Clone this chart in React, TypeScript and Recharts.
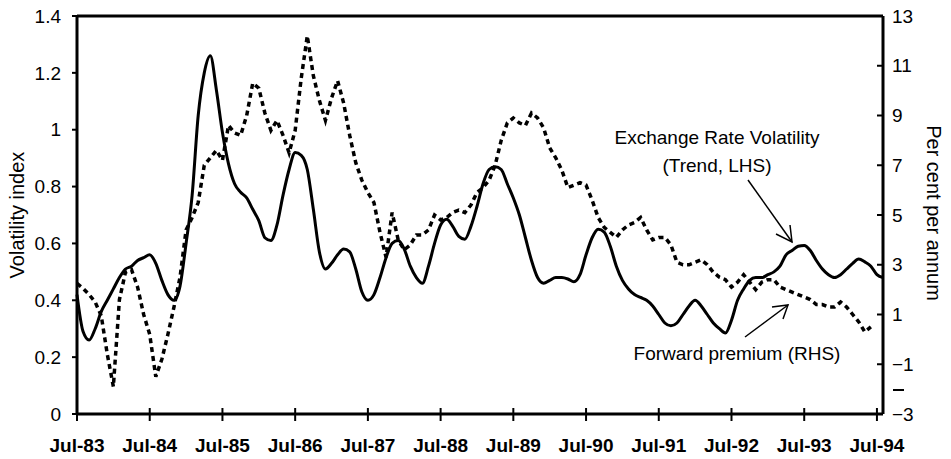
import { LineChart, Line, XAxis, YAxis, ReferenceLine } from "recharts";

const FONT = "'Liberation Sans', Arial, Helvetica, sans-serif";
const INK = "#000";

// one entry per month, Jul-83 = 0
const volatility = [
  0.42, 0.29, 0.26, 0.3, 0.36, 0.4, 0.44, 0.48, 0.51, 0.52, 0.54, 0.55,
  0.56, 0.53, 0.47, 0.42, 0.4, 0.45, 0.6, 0.77, 1.05, 1.2, 1.26, 1.14,
  0.99, 0.88, 0.81, 0.78, 0.76, 0.72, 0.68, 0.62, 0.61, 0.665, 0.77, 0.86,
  0.92, 0.91, 0.86, 0.72, 0.57, 0.51, 0.53, 0.56, 0.58, 0.57, 0.51, 0.43,
  0.4, 0.42, 0.48, 0.55, 0.6, 0.61, 0.58, 0.52, 0.48, 0.46, 0.52, 0.6,
  0.665, 0.685, 0.66, 0.625, 0.615, 0.66, 0.73, 0.81, 0.86, 0.87, 0.86, 0.81,
  0.76, 0.7, 0.62, 0.54, 0.48, 0.46, 0.47, 0.48, 0.48, 0.475, 0.465, 0.49,
  0.56, 0.62, 0.65, 0.64, 0.59, 0.52, 0.47, 0.44, 0.42, 0.41, 0.4, 0.38,
  0.35, 0.32, 0.31, 0.32, 0.35, 0.38, 0.4, 0.38, 0.35, 0.32, 0.3, 0.285,
  0.33, 0.4, 0.44, 0.47, 0.48, 0.48, 0.49, 0.5, 0.52, 0.56, 0.575, 0.59,
  0.593, 0.575, 0.54, 0.51, 0.49, 0.48, 0.49, 0.51, 0.53, 0.545, 0.535, 0.52,
  0.49, 0.48,
];

const forwardPremium = [
  2.25, 2.05, 1.8, 1.5, 0.95, -0.6, -1.9, 1.6, 2.7, 2.8, 2.1, 1.0,
  0.2, -1.5, -0.8, 0.2, 1.3, 2.5, 4.4, 4.9, 5.5, 7.0, 7.3, 7.6,
  7.2, 8.6, 8.3, 8.2, 9.0, 10.3, 10.1, 9.1, 8.4, 8.8, 8.2, 7.5,
  8.4, 10.5, 12.2, 10.6, 9.6, 8.8, 9.7, 10.4, 9.5, 8.2, 7.1, 6.4,
  5.9, 5.5, 4.3, 3.3, 5.1, 4.0, 3.6, 3.8, 4.2, 4.2, 4.4, 5.0,
  4.8, 4.9, 5.1, 5.2, 5.1, 5.4, 5.9, 6.1, 6.4, 7.0, 8.0, 8.7,
  8.9, 8.7, 8.6, 9.1, 8.9, 8.5, 7.7, 7.3, 6.8, 6.1, 6.2, 6.3,
  6.2, 5.6, 4.9, 4.5, 4.3, 4.1, 4.4, 4.6, 4.7, 4.9, 4.4, 4.0,
  4.1, 4.1, 3.8, 3.1, 3.0, 3.0, 3.1, 3.2, 3.0, 2.7, 2.5, 2.4,
  2.1, 2.3, 2.6, 2.3, 2.0, 2.3, 2.4, 2.4, 2.1, 2.0, 1.9, 1.8,
  1.7, 1.6, 1.4, 1.4, 1.3, 1.3, 1.5, 1.3, 1.0, 0.7, 0.3, 0.5,
];

const tickLabels = [
  "Jul-83", "Jul-84", "Jul-85", "Jul-86", "Jul-87", "Jul-88",
  "Jul-89", "Jul-90", "Jul-91", "Jul-92", "Jul-93", "Jul-94",
];
const leftTicks = [0, 0.2, 0.4, 0.6, 0.8, 1, 1.2, 1.4];
const rightTicks = [-3, -1, 1, 3, 5, 7, 9, 11, 13];

const data = volatility.map((v, i) => ({
  m: i,
  vol: v,
  fwd: i < forwardPremium.length ? forwardPremium[i] : null,
}));

const monthTicks = tickLabels.map((_, i) => i * 12);

function BottomTick({ x, y, payload }: any) {
  const axisY = y - 31;
  return (
    <g>
      <line x1={x} x2={x} y1={axisY - 6} y2={axisY + 7} stroke={INK} strokeWidth={2} />
      <text x={x} y={y} dy="0.355em" textAnchor="middle" fontSize={19} fontWeight="bold" fill={INK}>
        {tickLabels[Math.round(payload.value / 12)]}
      </text>
    </g>
  );
}

function RightTick({ x, y, payload }: any) {
  const v = payload.value;
  return (
    <g>
      <line x1={x - 15} x2={x - 9} y1={y} y2={y} stroke={INK} strokeWidth={2} />
      <text x={x} y={y} dy="0.355em" textAnchor="start" fontSize={19} fill={INK}>
        {v < 0 ? `\u2212${Math.abs(v)}` : String(v)}
      </text>
    </g>
  );
}

export default function App() {
  return (
    <div style={{ position: "absolute", left: 0, top: 0, width: 951, height: 459, background: "#fff", fontFamily: FONT }}>
      <LineChart width={951} height={459} data={data} margin={{ top: 16, right: 0, bottom: 0, left: 0 }}>
        <XAxis
          dataKey="m"
          type="number"
          domain={[0, 133]}
          ticks={monthTicks}
          interval={0}
          height={45}
          axisLine={{ stroke: INK, strokeWidth: 3 }}
          tickLine={false}
          tickSize={0}
          tickMargin={31}
          tick={<BottomTick />}
        />
        <YAxis
          yAxisId="l"
          domain={[0, 1.4]}
          ticks={leftTicks}
          interval={0}
          width={77}
          axisLine={{ stroke: INK, strokeWidth: 3 }}
          tickLine={{ stroke: INK, strokeWidth: 2 }}
          tickSize={5}
          tickMargin={11}
          tick={{ fontSize: 19, fill: INK }}
        />
        <YAxis
          yAxisId="r"
          orientation="right"
          domain={[-3, 13]}
          ticks={rightTicks}
          interval={0}
          width={68}
          axisLine={{ stroke: INK, strokeWidth: 3 }}
          tickLine={false}
          tickSize={0}
          tickMargin={9}
          tick={<RightTick />}
        />
        <ReferenceLine yAxisId="l" y={1.4} stroke={INK} strokeWidth={3} />
        <Line
          yAxisId="r"
          type="linear"
          dataKey="fwd"
          stroke={INK}
          strokeWidth={3.5}
          strokeDasharray="5 4"
          dot={false}
          isAnimationActive={false}
        />
        <Line
          yAxisId="l"
          type="monotone"
          dataKey="vol"
          stroke={INK}
          strokeWidth={3}
          dot={false}
          isAnimationActive={false}
        />
      </LineChart>
      <svg width={951} height={459} style={{ position: "absolute", left: 0, top: 0, pointerEvents: "none" }}>
        <g fill={INK} fontSize={20}>
          <text x={17} y={215} textAnchor="middle" dominantBaseline="central" transform="rotate(-90 17 215)">
            Volatility index
          </text>
          <text x={934} y={213} textAnchor="middle" dominantBaseline="central" transform="rotate(90 934 213)">
            Per cent per annum
          </text>
          <text x={717} y={137} textAnchor="middle" dominantBaseline="central" fontSize={19}>
            Exchange Rate Volatility
          </text>
          <text x={717} y={165} textAnchor="middle" dominantBaseline="central" fontSize={19}>
            (Trend, LHS)
          </text>
          <text x={737} y={353} textAnchor="middle" dominantBaseline="central" fontSize={19}>
            Forward premium (RHS)
          </text>
        </g>
        <g stroke={INK} strokeWidth={1.5} fill="none">
          <line x1={748} y1={180} x2={792} y2={242} />
          <polyline points="776,234 792,242 790,225" />
          <line x1={745} y1={337} x2={788} y2={305} />
          <polyline points="772,307 788,305 783,319" />
        </g>
        <line x1={893} x2={904} y1={390} y2={390} stroke={INK} strokeWidth={2} />
      </svg>
    </div>
  );
}
